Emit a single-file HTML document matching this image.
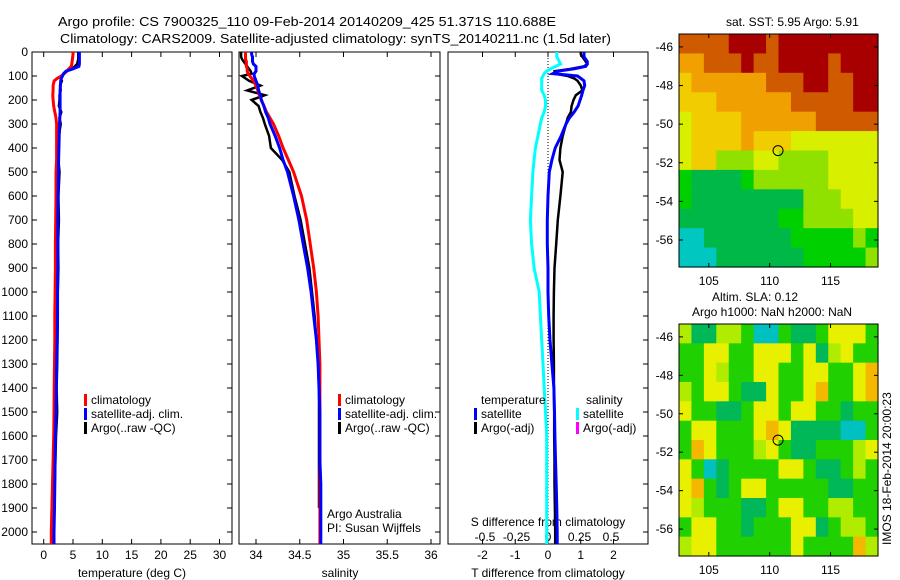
<!DOCTYPE html>
<html><head><meta charset="utf-8"><style>
html,body{margin:0;padding:0;background:#fff;}
svg{display:block;font-family:"Liberation Sans",sans-serif;}
text{font-size:12px;fill:#000;}
</style></head><body>
<svg id="fig" width="900" height="580" viewBox="0 0 900 580" xmlns="http://www.w3.org/2000/svg">
<text x="58" y="26" textLength="498" lengthAdjust="spacingAndGlyphs" style="font-size:13px">Argo profile: CS 7900325_110 09-Feb-2014 20140209_425 51.371S 110.688E</text>
<text x="60" y="43" textLength="551" lengthAdjust="spacingAndGlyphs" style="font-size:13px">Climatology: CARS2009. Satellite-adjusted climatology: synTS_20140211.nc (1.5d later)</text>
<g id="g1"></g>
<g id="g2"></g>
<g id="g3"></g>
<g id="m1"></g>
<g id="m2"></g>
<text x="726" y="26">sat. SST: 5.95 Argo: 5.91</text>
<text x="712" y="301">Altim. SLA: 0.12</text>
<text x="692" y="316">Argo h1000: NaN h2000: NaN</text>
<text transform="translate(891,545) rotate(-90)">IMOS 18-Feb-2014 20:00:23</text>
</svg>
<script>
const depth=[0,10,20,30,40,50,60,70,80,90,100,110,120,140,160,180,200,225,250,275,300,350,400,450,500,600,700,800,900,1000,1100,1200,1300,1400,1500,1600,1700,1800,1900,2000,2050];
const climT=[5.0,5.0,4.95,4.9,4.85,4.8,4.7,4.3,3.9,3.5,3.0,2.3,1.8,1.6,1.6,1.55,1.6,1.7,1.9,2.1,2.2,2.2,2.2,2.2,2.1,2.1,2.05,2.0,2.0,1.95,1.9,1.9,1.85,1.8,1.75,1.7,1.6,1.5,1.4,1.3,1.3];
const satT=[6.1,6.1,6.1,6.1,6.1,6.1,6.0,5.0,3.8,3.4,3.2,3.0,2.9,2.85,2.8,2.8,2.8,2.8,2.8,2.75,2.7,2.65,2.6,2.55,2.5,2.45,2.4,2.4,2.4,2.35,2.35,2.3,2.2,2.15,2.1,2.0,1.95,1.9,1.85,1.75,1.75];
const argoT=[5.9,5.9,5.9,5.9,5.8,5.7,5.3,4.6,4.0,3.5,3.0,2.9,3.1,2.8,2.9,2.7,2.7,2.6,3.0,2.7,2.9,2.6,2.6,2.5,2.7,2.5,2.6,2.45,2.5,2.4,2.4,2.35,2.3,2.2,2.3,2.1,2.0,1.9,1.8,null,null];
const climS=[33.88,33.88,33.88,33.88,33.89,33.89,33.89,33.90,33.90,33.91,33.93,33.95,33.97,34.0,34.02,34.04,34.06,34.09,34.12,34.16,34.2,34.26,34.31,34.37,34.43,34.52,34.58,34.62,34.66,34.69,34.71,34.72,34.73,34.73,34.73,34.73,34.73,34.73,34.73,34.73,34.73];
const satS=[33.95,33.95,33.96,33.96,33.96,33.97,34.0,34.0,34.0,33.98,33.98,33.99,34.0,34.02,34.03,34.05,34.06,34.09,34.11,34.14,34.16,34.22,34.27,34.31,34.36,34.43,34.49,34.54,34.59,34.63,34.66,34.69,34.71,34.72,34.73,34.73,34.73,34.74,34.74,34.74,34.74];
const argoS=[33.83,33.83,33.83,33.84,33.86,33.88,33.9,33.92,33.94,33.95,33.84,33.88,33.92,34.05,33.9,34.1,33.95,34.03,34.05,34.08,34.1,34.15,34.17,34.3,34.38,34.44,34.51,34.56,34.61,34.64,34.67,34.69,34.71,34.72,34.72,34.72,34.72,34.72,34.72,null,null];
const satDT=[1.1,1.1,1.1,1.15,1.2,1.2,1.15,0.8,0.3,0.15,0.9,1.0,1.1,1.12,1.07,1.03,0.98,0.92,0.8,0.65,0.55,0.4,0.22,0.12,0.04,0,-0.02,-0.02,0,0,0.02,0.06,0.12,0.18,0.2,0.21,0.23,0.25,0.27,0.28,0.28];
const argoDT=[1.0,1.0,1.05,1.1,1.15,1.2,1.1,0.7,0.2,0.2,0.6,0.8,0.9,1.0,1.05,0.85,0.78,0.72,0.7,0.6,0.55,0.45,0.38,0.35,0.45,0.38,0.3,0.25,0.2,0.18,0.17,0.17,0.18,0.18,0.19,0.19,0.2,0.2,0.21,0.22,0.22];
const satDS=[0.07,0.07,0.07,0.08,0.09,0.1,0.06,0.02,-0.01,-0.03,-0.04,-0.05,-0.05,-0.05,-0.05,-0.03,-0.02,-0.02,-0.03,-0.05,-0.06,-0.08,-0.1,-0.11,-0.12,-0.13,-0.14,-0.13,-0.11,-0.07,-0.06,-0.05,-0.04,-0.03,-0.02,-0.01,-0.01,-0.01,-0.01,-0.01,-0.01];
const depthTicks=[0,100,200,300,400,500,600,700,800,900,1000,1100,1200,1300,1400,1500,1600,1700,1800,1900,2000];
const tTicks=[0,5,10,15,20,25,30];
const sTicks=[34,34.5,35,35.5,36];
const sTickLabels=["34","34.5","35","35.5","36"];
const dTTicks=[-2,-1,0,1,2];
const dSTicks=[-0.5,-0.25,0,0.25,0.5];
const dSTickLabels=["-0.5","-0.25","0","0.25","0.5"];
const lonTicks=[105,110,115];
const latTicks=[-46,-48,-50,-52,-54,-56];
const sstRows=["BBBBRRRBRRRRRRRR","OOBBBRBBRRRRBRRR","YOOOOOOBBBRRBBRR","YYYOOOOOOBBBBBRR","LYYYYOOOOOOBBBBB","LYYYYOYYYLLLLLLL","LYYGGGLLGGGGLLLL","gTTTTgGGGGGGLLLL","gTTTTTTTTTGGGLLL","TTTTTTTTggGGGGLL","CCTTTTTTTgggggGg","CCCTTTTTTTgggggG"];
const slaRows=["LTTLLgCCgTTgYYYg","ggYYggYYYgYTLYgg","ggYLggYYggYYggYO","LgYYgTTYggYOggYO","YggTTgYYgYYggTgg","gYYgggYOYTTTTCCg","gOYgggLYgTTgggLY","YgCTggggYYgTTgLg","YOgTgYYgggggTTgg","YLgggTTgYYggLLgg","gYYggTgggYYTgLLg","LYYggggggYggggOL"];
const argoLon=110.688, argoLat=-51.371;

const NS="http://www.w3.org/2000/svg";
function mk(parent,tag,attrs,name){const e=document.createElementNS(NS,tag);for(const k in attrs)e.setAttribute(k,attrs[k]);


parent.appendChild(e);return e;}
const yD=d=>52+d*0.24;
const TOP=52,BOT=544;
function line(g,vals,xf,color,w,name){let pts=[];const segs=[];
 vals.forEach((v,i)=>{if(v===null){if(pts.length)segs.push(pts);pts=[];}else pts.push(xf(v).toFixed(1)+","+yD(depth[i]).toFixed(1));});
 if(pts.length)segs.push(pts);
 segs.forEach(p=>mk(g,'polyline',{points:p.join(' '),fill:'none',stroke:color,'stroke-width':w},name));}
function frame(g,x0,x1,name){mk(g,'rect',{x:x0,y:TOP,width:x1-x0,height:BOT-TOP,fill:'none',stroke:'#000','stroke-width':1},name);}
function xticks(g,vals,xf,labels,ly,pre){vals.forEach((v,i)=>{const x=xf(v);
 mk(g,'line',{x1:x,x2:x,y1:TOP,y2:TOP+5,stroke:'#000'},pre+'-top-tick');
 mk(g,'line',{x1:x,x2:x,y1:BOT,y2:BOT-5,stroke:'#000'},pre+'-bottom-tick');
 if(labels){const t=mk(g,'text',{x:x,y:ly,'text-anchor':'middle'},pre+'-tick-label');t.textContent=labels[i];}});}
function yticks(g,x,dir){depthTicks.forEach(d=>mk(g,'line',{x1:x,x2:x+dir*5,y1:yD(d),y2:yD(d),stroke:'#000'},'depth-tick'));}
function legend(g,x,y,color,label,name){mk(g,'rect',{x:x,y:y-10,width:3,height:12,fill:color},name+'-swatch');const t=mk(g,'text',{x:x+7,y:y},name+'-label');t.textContent=label;}

// Panel 1
const g1=document.getElementById('g1');
const xT=t=>43.7+t*5.86;
frame(g1,32,232,'temperature-axes-frame');
yticks(g1,32,1);yticks(g1,232,-1);
depthTicks.forEach(d=>{const t=mk(g1,'text',{x:28,y:yD(d)+4,'text-anchor':'end'},'depth-tick-label');t.textContent=d;});
xticks(g1,tTicks,xT,tTicks.map(String),559,'temperature');
{const t=mk(g1,'text',{x:132,y:577,'text-anchor':'middle'},'temperature-axis-title');t.textContent='temperature (deg C)';}
line(g1,argoT,xT,'#000',2.5,'argo-temperature-line');
line(g1,climT,xT,'#f00',3,'climatology-temperature-line');
line(g1,satT,xT,'#00f',3,'satellite-temperature-line');
legend(g1,84,404,'#f00','climatology','legend-climatology');
legend(g1,84,418,'#00f','satellite-adj. clim.','legend-satellite');
legend(g1,84,432,'#000','Argo(..raw -QC)','legend-argo');

// Panel 2
const g2=document.getElementById('g2');
const xS=s=>256+(s-34)*87.5;
frame(g2,239,440,'salinity-axes-frame');
yticks(g2,440,-1);
xticks(g2,sTicks,xS,sTickLabels,559,'salinity');
{const t=mk(g2,'text',{x:340,y:577,'text-anchor':'middle'},'salinity-axis-title');t.textContent='salinity';}
line(g2,argoS,xS,'#000',2.5,'argo-salinity-line');
line(g2,climS,xS,'#f00',3,'climatology-salinity-line');
line(g2,satS,xS,'#00f',3,'satellite-salinity-line');
legend(g2,338,404,'#f00','climatology','legend-climatology');
legend(g2,338,418,'#00f','satellite-adj. clim.','legend-satellite');
legend(g2,338,432,'#000','Argo(..raw -QC)','legend-argo');
{const t=mk(g2,'text',{x:327,y:518},'argo-australia-label');t.textContent='Argo Australia';}
{const t=mk(g2,'text',{x:327,y:532},'pi-label');t.textContent='PI: Susan Wijffels';}

// Panel 3
const g3=document.getElementById('g3');
const xDT=d=>548+d*32.75, xDS=s=>548+s*126;
frame(g3,448,648,'difference-axes-frame');
yticks(g3,648,-1);
xticks(g3,dTTicks,xDT,dTTicks.map(String),559,'t-diff');
dSTicks.forEach((v,i)=>{const t=mk(g3,'text',{x:xDS(v),y:541,'text-anchor':'middle'},'s-diff-tick-label');t.textContent=dSTickLabels[i];});
{const t=mk(g3,'text',{x:548,y:577,'text-anchor':'middle'},'t-diff-axis-title');t.textContent='T difference from climatology';}
{const t=mk(g3,'text',{x:548,y:526,'text-anchor':'middle'},'s-diff-axis-title');t.textContent='S difference from climatology';}
mk(g3,'line',{x1:xDT(0),x2:xDT(0),y1:TOP,y2:BOT,stroke:'#000','stroke-dasharray':'1,2'},'zero-line');
line(g3,satDS,xDS,'#0ff',3,'satellite-salinity-diff-line');
line(g3,argoDT,xDT,'#000',2.5,'argo-temperature-diff-line');
line(g3,satDT,xDT,'#00f',3,'satellite-temperature-diff-line');
{const t=mk(g3,'text',{x:481,y:404},'legend-temperature-heading');t.textContent='temperature';}
{const t=mk(g3,'text',{x:586,y:404},'legend-salinity-heading');t.textContent='salinity';}
legend(g3,474,418,'#00f','satellite','legend-temp-satellite');
legend(g3,474,432,'#000','Argo(-adj)','legend-temp-argo');
legend(g3,576,418,'#0ff','satellite','legend-sal-satellite');
legend(g3,576,432,'#f0f','Argo(-adj)','legend-sal-argo');

// Maps
const cmap={R:'#a80000',B:'#cf5a00',O:'#f0a000',Y:'#f0cc00',L:'#d8f000',G:'#90e000',g:'#00d000',T:'#00b848',C:'#00c8c0'};
const cmap2={R:'#a80000',B:'#cf5a00',O:'#f4b800',Y:'#e8f000',L:'#b0ec00',G:'#90e000',g:'#20d000',T:'#00b858',C:'#00c0c0'};
function map(id,rows,cm,y0,y1,latTop,latBot,name){const g=document.getElementById(id);
 const x0=679,x1=878,lonL=102.55,lonR=118.9;
 const lx=l=>x0+(l-lonL)/(lonR-lonL)*(x1-x0), ly=l=>y0+(latTop-l)/(latTop-latBot)*(y1-y0);
 const nr=rows.length,nc=rows[0].length,cw=(x1-x0)/nc,ch=(y1-y0)/nr;
 rows.forEach((r,j)=>{for(let i=0;i<nc;i++)mk(g,'rect',{x:(x0+i*cw).toFixed(2),y:(y0+j*ch).toFixed(2),width:(cw+0.6).toFixed(2),height:(ch+0.6).toFixed(2),fill:cm[r[i]]},name+'-cell');});
 mk(g,'rect',{x:x0,y:y0,width:x1-x0,height:y1-y0,fill:'none',stroke:'#000'},name+'-frame');
 lonTicks.forEach(l=>{const x=lx(l);mk(g,'line',{x1:x,x2:x,y1:y0,y2:y0+4,stroke:'#000'},'lon-tick');mk(g,'line',{x1:x,x2:x,y1:y1,y2:y1-4,stroke:'#000'},'lon-tick');
  const t=mk(g,'text',{x:x,y:y1+18,'text-anchor':'middle'},'lon-tick-label');t.textContent=l;});
 latTicks.forEach(l=>{const y=ly(l);mk(g,'line',{x1:x0,x2:x0+4,y1:y,y2:y,stroke:'#000'},'lat-tick');mk(g,'line',{x1:x1,x2:x1-4,y1:y,y2:y,stroke:'#000'},'lat-tick');
  const t=mk(g,'text',{x:x0-6,y:y+4,'text-anchor':'end'},'lat-tick-label');t.textContent=l;});
 mk(g,'circle',{cx:lx(argoLon),cy:ly(argoLat),r:5,fill:'none',stroke:'#000','stroke-width':1},'argo-position-marker');}
map('m1',sstRows,cmap,34,267,-45.33,-57.4,'sst');
map('m2',slaRows,cmap2,324,556,-45.33,-57.4,'sla');
</script>
</body></html>
